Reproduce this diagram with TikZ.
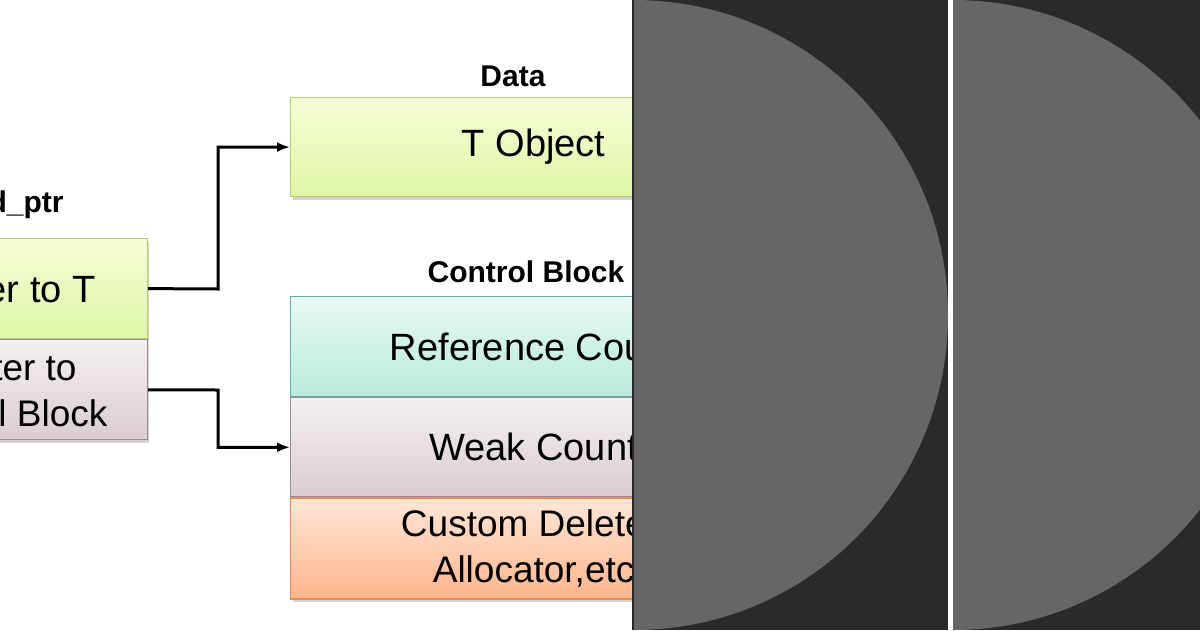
\documentclass[tikz,border=0pt]{standalone}
\usepackage{fontspec}
\setmainfont{Liberation Sans}
\usetikzlibrary{positioning,shadows,arrows.meta}
\definecolor{grnTop}{HTML}{F6FDD6}\definecolor{grnBot}{HTML}{DFF5A6}\definecolor{grnLine}{HTML}{B3D26E}
\definecolor{tealTop}{HTML}{E8F9F5}\definecolor{tealBot}{HTML}{B8EADB}\definecolor{tealLine}{HTML}{63B3A3}
\definecolor{mauTop}{HTML}{F4EFF1}\definecolor{mauBot}{HTML}{DACDD2}\definecolor{mauLine}{HTML}{9E8A92}
\definecolor{orTop}{HTML}{FFE6D8}\definecolor{orBot}{HTML}{FFB58C}\definecolor{orLine}{HTML}{EE8A52}
\definecolor{panel}{HTML}{2A2A2A}\definecolor{disc}{HTML}{666666}
\begin{document}
\begin{tikzpicture}[x=1pt,y=-1pt,
		box/.style={rectangle,draw=#1Line,line width=1.2pt,top color=#1Top,bottom color=#1Bot,
			font=\fontsize{38}{44}\selectfont,align=center,inner sep=0pt,
			drop shadow={shadow xshift=2pt,shadow yshift=-3pt,opacity=.35}},
		ttl/.style={font=\fontsize{30}{34}\selectfont\bfseries},
		link/.style={-{Latex[length=13pt,width=10pt]},line width=3pt}]
		\useasboundingbox (0,0) rectangle (1200,630);
		\fill[white] (0,0) rectangle (1200,630);
		% data block
		\node[box=grn,anchor=north west,minimum width=486pt,minimum height=99pt] (obj) at (290,97) {T Object};
		\node[ttl] (dataT) at (513,76) {Data};
		% control block
		\node[box=teal,anchor=north west,minimum width=486pt,minimum height=100pt] (ref) at (290,296) {Reference Count};
		\node[box=mau,anchor=north,minimum width=486pt,minimum height=99pt] (weak) at (ref.south) {Weak Count};
		\node[box=or,anchor=north,minimum width=486pt,minimum height=101pt,font=\fontsize{37}{46}\selectfont] (del) at (weak.south) {Custom Deleter,\\Allocator,etc};
		\node[ttl] (ctrlT) at (526,272) {Control Block};
		% shared_ptr
		\node[box=grn,anchor=north east,minimum width=300pt,minimum height=100pt] (ptrT) at (148,238) {Pointer to T};
		\node[box=mau,anchor=north,minimum width=300pt,minimum height=100pt,font=\fontsize{37}{46}\selectfont] (ptrC) at (ptrT.south) {Pointer to\\Control Block};
		\node[ttl] (spT) at (-14,205) {shared\_ptr};
		% links
		\draw[link] (ptrT.east) -- (218,289) |- (obj.west);
		\draw[link] (ptrC.east) -- (218,390) |- (weak.west);
		% dark panels
		\fill[panel] (632,0) rectangle (1200,630);
		\fill[white] (948,0) rectangle (953,630);
		\begin{scope}
			\clip (634,0) rectangle (948,630);
			\fill[disc] (634,315) ellipse (314 and 315);
		\end{scope}
		\begin{scope}
			\clip (953,0) rectangle (1200,630);
			\fill[disc] (953,315) ellipse (314 and 315);
		\end{scope}
\end{tikzpicture}
\end{document}
